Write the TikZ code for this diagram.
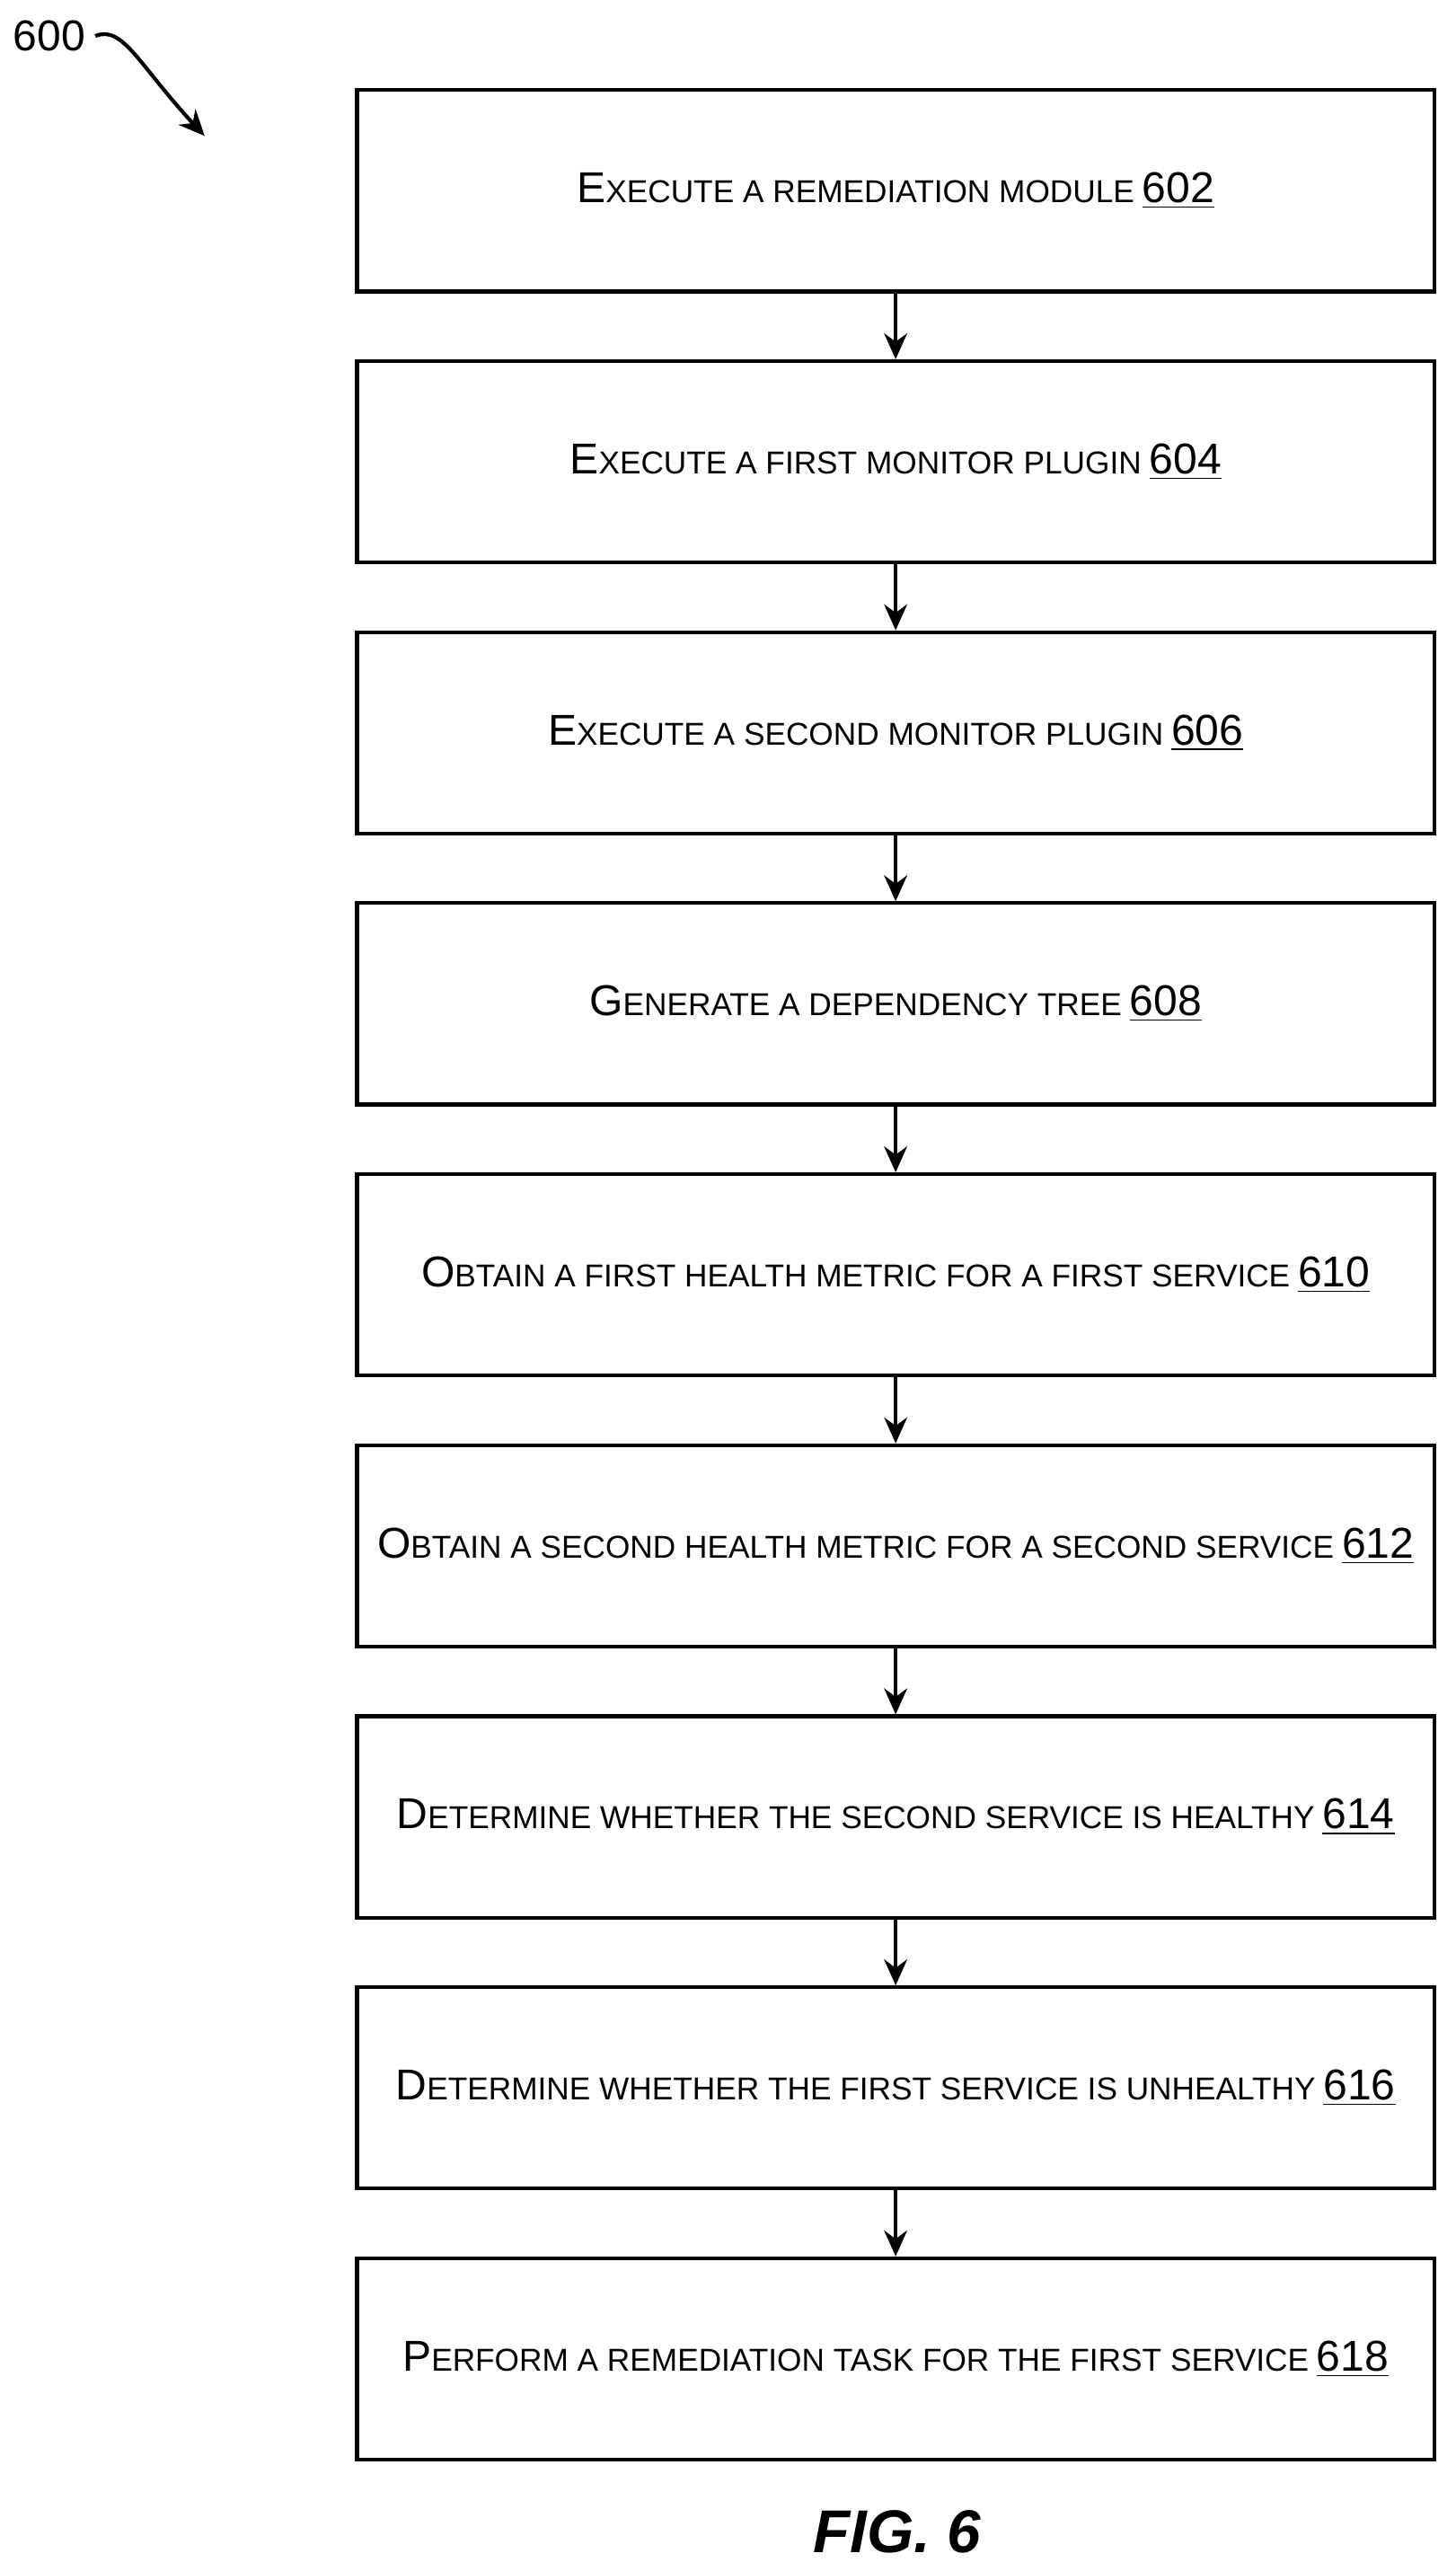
\documentclass[tikz,border=0pt]{standalone}
\usepackage{fontspec}
\setmainfont{Liberation Sans}
\usetikzlibrary{positioning,arrows.meta}
\newcommand{\smc}[2]{{\fontsize{15}{18}\selectfont #1}{\fontsize{11}{15}\selectfont\MakeUppercase{#2}}}
\tikzset{
  stepbox/.style={draw,line width=1.3pt,minimum width=13.16cm,minimum height=2.46cm,inner sep=0pt},
  flow/.style={line width=1.3pt,-{Stealth[length=9pt,width=8pt]}}
}
\begin{document}
\begin{tikzpicture}[x=0.02cm,y=-0.02cm]
\useasboundingbox (0,0) rectangle (889,1570);

\foreach \n/\first/\rest/\ref [count=\i] in {
  1/E/xecute a remediation module/602,
  2/E/xecute a first monitor plugin/604,
  3/E/xecute a second monitor plugin/606,
  4/G/enerate a dependency tree/608,
  5/O/btain a first health metric for a first service/610,
  6/O/btain a second health metric for a second service/612,
  7/D/etermine whether the second service is healthy/614,
  8/D/etermine whether the first service is unhealthy/616,
  9/P/erform a remediation task for the first service/618}
{
  \node[stepbox] (b\n) at (547,{116.5+165.5*(\i-1)}) {\smc{\first}{\rest} {\fontsize{15}{18}\selectfont\underline{\ref}}};
}
\foreach \i [evaluate=\i as \j using int(\i+1)] in {1,...,8}
{
  \draw[flow] (b\i) -- (b\j);
}

% label and figure caption
\node (lbl) at (30,22) {\fontsize{15}{18}\selectfont 600};
\coordinate (tip) at (125,83);
\draw[flow] (lbl.east) .. controls (75,15) and (85,40) .. (tip);
\node (fig) at (548,1546) {\fontsize{21}{24}\selectfont\bfseries\itshape FIG. 6};
\end{tikzpicture}
\end{document}
